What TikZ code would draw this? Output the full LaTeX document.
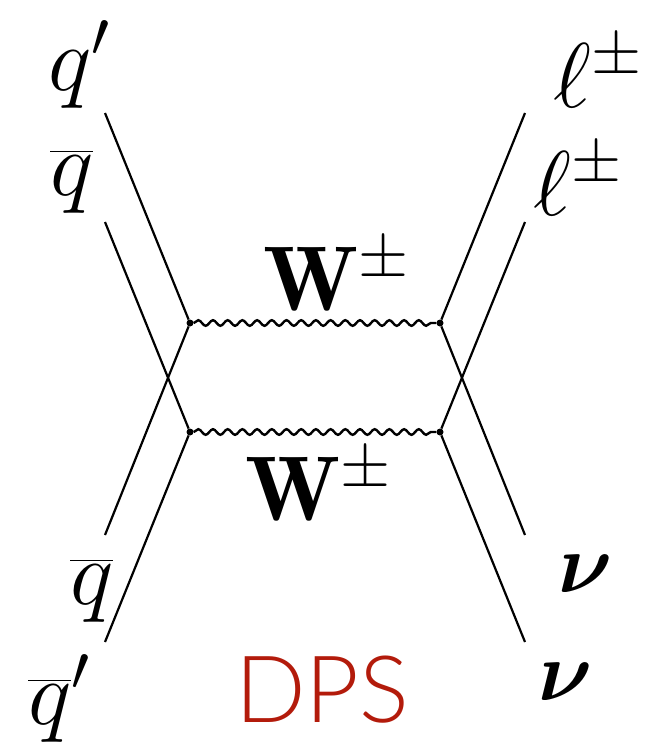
\documentclass[tikz,border=0pt]{standalone}
\usepackage{fix-cm}
\usepackage{amsmath}
\usepackage{bm}
\usepackage{fontspec}
\newfontfamily\dpsfont{Lato Light}
\usetikzlibrary{decorations.pathmorphing,positioning}
\definecolor{dpsred}{RGB}{179,27,11}

\begin{document}
\begin{tikzpicture}[
    x=1pt, y=-1pt,
    fermion/.style={line width=2.2pt},
    boson/.style={line width=2.4pt, decorate, decoration={snake, segment length=14.7pt, amplitude=2.8pt}},
    vertexdot/.style={circle, fill, inner sep=0pt, minimum size=7pt},
    particle/.style={inner sep=0pt, anchor=base west, font=\fontsize{92}{100}\selectfont}
]
\useasboundingbox (0,0) rectangle (651,747);

% vertices
\node[vertexdot] (vUL) at (190,323) {};
\node[vertexdot] (vUR) at (440,323) {};
\node[vertexdot] (vLL) at (190,432) {};
\node[vertexdot] (vLR) at (440,432) {};

% free ends of the legs
\coordinate (qpEnd) at (105,113);
\coordinate (qbEnd) at (105,222);
\coordinate (qbbEnd) at (105,535);
\coordinate (qbpEnd) at (105,642);
\coordinate (lepEndA) at (525,113);
\coordinate (lepEndB) at (525,222);
\coordinate (nuEndA) at (525,535);
\coordinate (nuEndB) at (525,642);

% W lines
\draw[boson] (vUL) -- (vUR);
\draw[boson] (vLL) -- (vLR);

% incoming partons
\draw[fermion] (qpEnd) -- (vUL);
\draw[fermion] (qbbEnd) -- (vUL);
\draw[fermion] (qbEnd) -- (vLL);
\draw[fermion] (qbpEnd) -- (vLL);

% outgoing leptons
\draw[fermion] (vUR) -- (lepEndA);
\draw[fermion] (vUR) -- (nuEndA);
\draw[fermion] (vLR) -- (lepEndB);
\draw[fermion] (vLR) -- (nuEndB);

% labels
\node[particle] (qpLabel) at (48,90) {$q'$};
\node[particle] (qbLabel) at (50,195) {$\overline{q}$};
\node[particle] (qbbLabel) at (70,604) {$\overline{q}$};
\node[particle] (qbpLabel) at (28,724) {$\overline{q}'$};
\node[particle] (lepLabelA) at (553,107) {$\ell^{\pm}$};
\node[particle] (lepLabelB) at (533,215) {$\ell^{\pm}$};
\node[particle] (wLabelA) at (263,310) {$\mathbf{W}^{\pm}$};
\node[particle] (wLabelB) at (245,520) {$\mathbf{W}^{\pm}$};
\node[particle, font=\fontsize{84}{90}\selectfont] (nuLabelA) at (558,592) {$\bm{\nu}$};
\node[particle, font=\fontsize{84}{90}\selectfont] (nuLabelB) at (538,700) {$\bm{\nu}$};

\node[inner sep=0pt, anchor=base west, text=dpsred, font=\dpsfont\fontsize{93}{100}\selectfont] (dpsLabel) at (235,722) {DPS};

\end{tikzpicture}
\end{document}
